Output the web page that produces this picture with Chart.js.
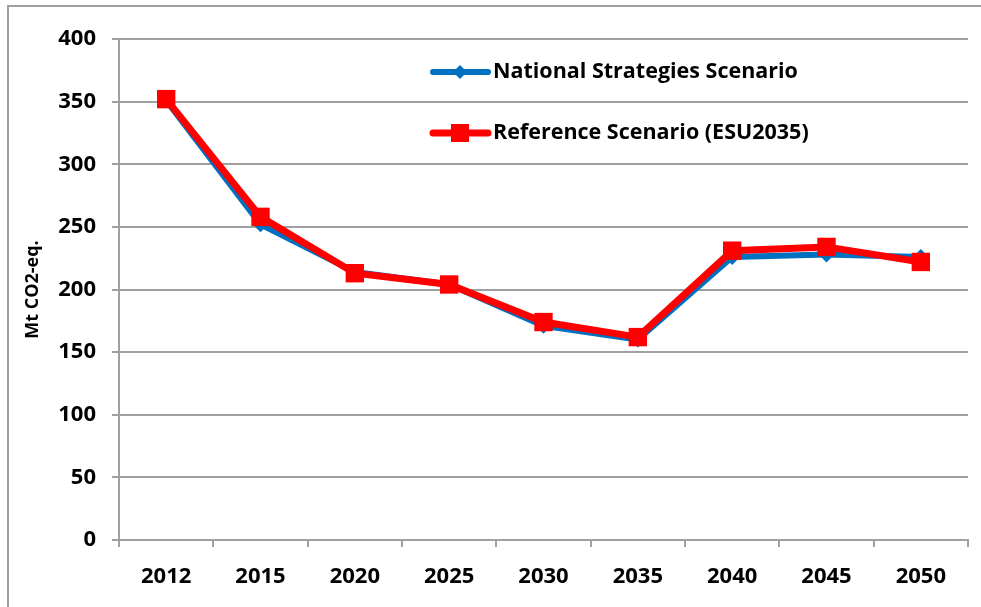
<!DOCTYPE html>
<html lang="en">
<head>
    <meta charset="UTF-8">
    <title>Mt CO2-eq. scenarios</title>
    <script src="https://cdn.jsdelivr.net/npm/chart.js"></script>
    <style>
        html, body { margin: 0; padding: 0; background: #fff; }
        #wrap { width: 981px; height: 607px; }
    </style>
</head>
<body>
    <div id="wrap">
        <canvas id="co2Chart" width="981" height="607"></canvas>
    </div>

    <script>
        // Values
        const years = ['2012', '2015', '2020', '2025', '2030', '2035', '2040', '2045', '2050'];
        const nationalStrategies = [351, 252, 214, 204, 171, 160, 226, 228, 226];
        const referenceScenario = [352, 258, 213, 204, 174, 162, 231, 234, 222];
        const yTicks = [0, 50, 100, 150, 200, 250, 300, 350, 400];

        const fontFamily = '"Open Sans", Lato, "Liberation Sans", sans-serif';
        const gridGray = '#a0a0a0';

        // outer frame (only top and left edges are visible in the original)
        const framePlugin = {
            id: 'frame',
            beforeDraw(chart) {
                const ctx = chart.ctx;
                ctx.save();
                ctx.strokeStyle = gridGray;
                ctx.lineWidth = 2;
                ctx.beginPath();
                ctx.moveTo(8, 640);
                ctx.lineTo(8, 6);
                ctx.lineTo(990, 6);
                ctx.stroke();
                ctx.restore();
            }
        };

        // legend drawn inside the plot area, like the original
        const innerLegend = {
            id: 'innerLegend',
            afterDraw(chart) {
                const ctx = chart.ctx;
                const area = chart.chartArea;
                const items = [chart.data.datasets[1], chart.data.datasets[0]];
                const x0 = area.left + 314;
                const rows = [area.top + 33, area.top + 94];
                ctx.save();
                items.forEach((ds, i) => {
                    const y = rows[i];
                    ctx.strokeStyle = ds.borderColor;
                    ctx.lineWidth = ds.borderWidth;
                    ctx.lineCap = 'round';
                    ctx.beginPath();
                    ctx.moveTo(x0, y);
                    ctx.lineTo(x0 + 55, y);
                    ctx.stroke();
                    ctx.fillStyle = ds.borderColor;
                    const cx = x0 + 27;
                    if (ds.pointStyle === 'rect') {
                        ctx.fillRect(cx - 9, y - 9, 18, 18);
                    } else {
                        ctx.beginPath();
                        ctx.moveTo(cx, y - 7);
                        ctx.lineTo(cx + 7, y);
                        ctx.lineTo(cx, y + 7);
                        ctx.lineTo(cx - 7, y);
                        ctx.closePath();
                        ctx.fill();
                    }
                    ctx.fillStyle = '#000';
                    ctx.font = 'bold 21.5px ' + fontFamily;
                    ctx.textBaseline = 'middle';
                    ctx.textAlign = 'left';
                    ctx.fillText(ds.label, x0 + 60, y);
                });
                ctx.restore();
            }
        };

        const ctx = document.getElementById('co2Chart').getContext('2d');
        new Chart(ctx, {
            type: 'line',
            data: {
                labels: years,
                datasets: [{
                    label: 'Reference Scenario (ESU2035)',
                    data: referenceScenario,
                    borderColor: '#ff0000',
                    backgroundColor: '#ff0000',
                    borderWidth: 7,
                    pointStyle: 'rect',
                    pointRadius: 13,
                    pointBorderWidth: 0,
                    tension: 0,
                    order: 0
                }, {
                    label: 'National Strategies Scenario',
                    data: nationalStrategies,
                    borderColor: '#0070c0',
                    backgroundColor: '#0070c0',
                    borderWidth: 6,
                    pointStyle: 'rectRot',
                    pointRadius: 8,
                    pointBorderWidth: 0,
                    tension: 0,
                    order: 1
                }]
            },
            options: {
                responsive: false,
                animation: false,
                events: [],
                layout: { padding: { left: 0, top: 39, right: 3, bottom: 0 } },
                plugins: {
                    legend: { display: false },
                    tooltip: { enabled: false }
                },
                scales: {
                    x: {
                        offset: true,
                        afterFit(scale) { scale.height = 67; },
                        grid: {
                            offset: true,
                            drawOnChartArea: false,
                            drawTicks: true,
                            tickLength: 7,
                            color: gridGray,
                            lineWidth: 2
                        },
                        border: { color: gridGray, width: 2 },
                        ticks: {
                            color: '#000',
                            padding: 17,
                            maxRotation: 0,
                            font: { family: fontFamily, size: 22, weight: 'bold' }
                        }
                    },
                    y: {
                        min: 0,
                        max: 400,
                        afterFit(scale) { scale.width = 119; },
                        afterBuildTicks(scale) {
                            scale.ticks = yTicks.map(v => ({ value: v }));
                        },
                        title: {
                            display: true,
                            text: 'Mt CO2-eq.',
                            color: '#000',
                            padding: { top: 22, bottom: 0 },
                            font: { family: fontFamily, size: 18, weight: 'bold' }
                        },
                        grid: {
                            color: gridGray,
                            lineWidth: 2,
                            tickLength: 7
                        },
                        border: { color: gridGray, width: 2 },
                        ticks: {
                            color: '#000',
                            padding: 16,
                            font: { family: fontFamily, size: 22, weight: 'bold' }
                        }
                    }
                }
            },
            plugins: [framePlugin, innerLegend]
        });
    </script>
</body>
</html>
